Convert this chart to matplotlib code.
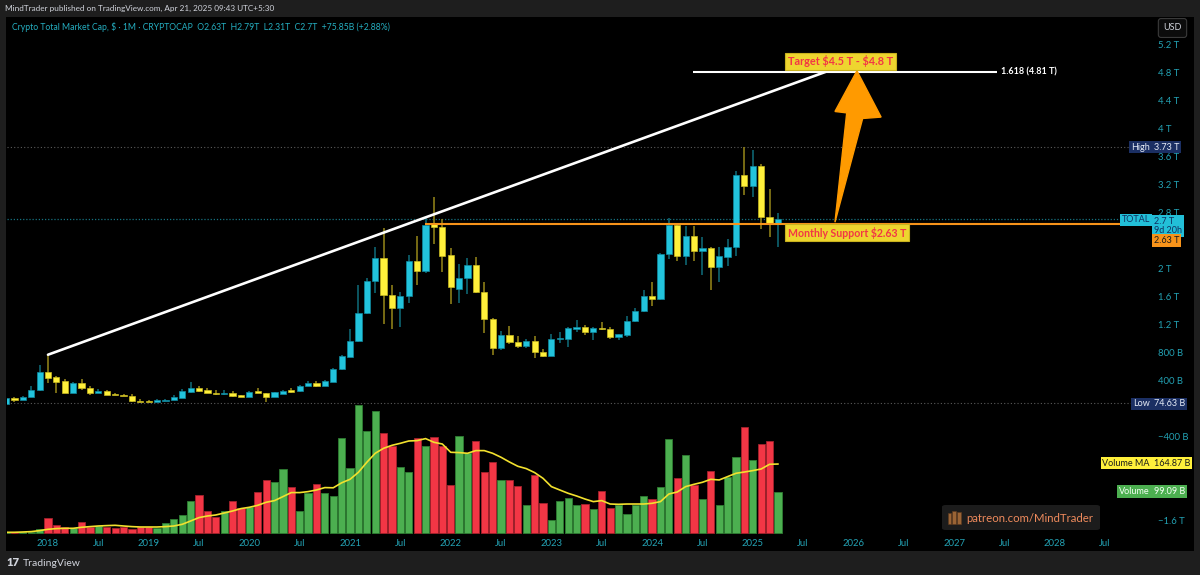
import numpy as np
import matplotlib
matplotlib.use("Agg")
import matplotlib.pyplot as plt
from matplotlib.patches import Rectangle, Polygon, FancyBboxPatch

plt.rcParams['font.family'] = ['Lato', 'DejaVu Sans']

# ---------------- data (monthly, Aug 2017 .. Apr 2025), prices in trillions USD ----------------
start_year, start_month = 2017, 8
opens = [0.07, 0.15, 0.125, 0.17, 0.26,
         0.53, 0.45, 0.39, 0.22, 0.37, 0.295, 0.22, 0.25, 0.21, 0.20, 0.18, 0.115,
         0.11, 0.10, 0.115, 0.125, 0.15, 0.24, 0.295, 0.26, 0.23, 0.205, 0.23, 0.19,
         0.17, 0.25, 0.22, 0.17, 0.215, 0.26, 0.25, 0.32, 0.365, 0.33, 0.385, 0.56,
         0.74, 0.965, 1.36, 1.82, 2.15, 1.62, 1.43, 1.61, 2.10, 1.96, 2.64, 2.59,
         2.19, 1.71, 1.87, 2.05, 1.67, 1.28, 0.86, 1.05, 0.95, 0.90, 0.97, 0.81,
         0.75, 0.99, 1.00, 1.13, 1.16, 1.09, 1.15, 1.14, 1.02, 1.05, 1.25, 1.39,
         1.61, 1.57, 2.20, 2.62, 2.18, 2.46, 2.25, 2.29, 2.02, 2.17, 2.30, 3.34,
         3.18, 3.46, 2.74, 2.63]
highs = [0.16, 0.16, 0.18, 0.32, 0.62,
         0.77, 0.46, 0.43, 0.38, 0.43, 0.32, 0.285, 0.26, 0.22, 0.21, 0.21, 0.135,
         0.125, 0.135, 0.14, 0.19, 0.28, 0.38, 0.33, 0.30, 0.26, 0.26, 0.25, 0.20,
         0.25, 0.30, 0.23, 0.24, 0.27, 0.29, 0.34, 0.40, 0.39, 0.41, 0.58, 0.76,
         1.13, 1.77, 1.87, 2.31, 2.58, 1.76, 1.66, 2.19, 2.46, 2.73, 3.02, 2.71,
         2.29, 2.06, 2.15, 2.17, 1.81, 1.30, 1.11, 1.18, 1.04, 1.00, 1.03, 0.85,
         1.07, 1.09, 1.17, 1.26, 1.19, 1.16, 1.24, 1.17, 1.07, 1.32, 1.43, 1.69,
         1.81, 2.22, 2.72, 2.64, 2.60, 2.60, 2.45, 2.31, 2.30, 2.42, 3.39, 3.74,
         3.69, 3.49, 3.13, 2.79]
lows = [0.065, 0.09, 0.12, 0.165, 0.25,
        0.36, 0.23, 0.22, 0.22, 0.27, 0.20, 0.22, 0.19, 0.19, 0.18, 0.10, 0.09,
        0.10, 0.10, 0.11, 0.12, 0.15, 0.23, 0.24, 0.22, 0.20, 0.19, 0.17, 0.17,
        0.17, 0.22, 0.10, 0.16, 0.21, 0.23, 0.24, 0.32, 0.31, 0.32, 0.38, 0.55,
        0.74, 0.95, 1.35, 1.65, 1.21, 1.13, 1.16, 1.51, 1.76, 1.94, 2.35, 1.95,
        1.49, 1.51, 1.63, 1.65, 1.08, 0.76, 0.84, 0.92, 0.86, 0.86, 0.73, 0.74,
        0.75, 0.94, 0.88, 1.10, 1.05, 0.98, 1.12, 1.00, 0.98, 1.02, 1.24, 1.38,
        1.46, 1.55, 2.13, 2.10, 2.05, 2.11, 1.91, 1.69, 1.81, 2.03, 2.18, 3.05,
        3.02, 2.56, 2.45, 2.31]
closes = [0.15, 0.125, 0.17, 0.27, 0.53,
          0.44, 0.385, 0.22, 0.37, 0.29, 0.23, 0.25, 0.20, 0.20, 0.18, 0.105, 0.10,
          0.10, 0.125, 0.13, 0.16, 0.25, 0.295, 0.25, 0.22, 0.205, 0.23, 0.185, 0.17,
          0.24, 0.22, 0.16, 0.235, 0.255, 0.24, 0.33, 0.36, 0.32, 0.395, 0.565, 0.75,
          0.965, 1.36, 1.82, 2.15, 1.62, 1.43, 1.61, 2.10, 1.96, 2.62, 2.59, 2.18,
          1.73, 1.87, 2.05, 1.66, 1.28, 0.86, 1.05, 0.95, 0.90, 0.97, 0.81, 0.75,
          1.00, 1.01, 1.15, 1.165, 1.10, 1.15, 1.13, 1.02, 1.06, 1.25, 1.39, 1.61,
          1.57, 2.20, 2.62, 2.18, 2.46, 2.25, 2.29, 2.02, 2.18, 2.31, 3.34, 3.18,
          3.46, 2.74, 2.63, 2.70]
# volume in billions USD
volumes = [2.4, 2.4, 3.1, 4.0, 9.5,
           35.7, 19.0, 15.9, 13.6, 27.8, 15.9, 17.4, 15.9, 12.6, 14.3, 11.2, 14.3,
           14.3, 13.6, 23.8, 33.3, 42.8, 76.9, 90.4, 52.4, 39.7, 53.1, 76.9, 61.2,
           61.9, 99.2, 126.9, 122.1, 152.3, 110.2, 54.0, 96.9, 116.6, 95.9, 88.8, 227.8,
           155.4, 305.4, 244.4, 291.1, 239.7, 207.8, 157.1, 145.9, 226.1, 208.7, 228.5, 208.7,
           115.0, 230.9, 190.4, 219.7, 145.2, 169.7, 126.1, 127.8, 113.5, 66.6, 138.8, 73.1,
           32.6, 77.8, 84.0, 66.6, 70.7, 57.8, 100.0, 61.2, 68.3, 45.2, 68.3, 88.1,
           80.9, 110.2, 225.4, 130.9, 185.6, 115.0, 80.9, 148.3, 68.3, 134.9, 180.9, 252.3,
           174.5, 213.5, 219.7, 99.09]
volume_ma = [2.4, 2.4, 3.1, 4.0, 6.4,
             9.5, 11.2, 11.9, 11.9, 14.3, 15.9, 17.4, 18.3, 19.0, 17.4, 15.9, 15.0,
             15.0, 15.0, 15.9, 17.4, 21.4, 29.3, 37.4, 41.2, 43.6, 48.3, 53.1, 58.8,
             61.9, 66.6, 73.8, 77.8, 87.3, 96.9, 96.9, 99.2, 103.1, 108.8, 108.3, 120.2,
             128.5, 145.2, 169.0, 190.4, 202.3, 209.4, 214.2, 219.7, 220.6, 225.4, 216.6, 212.5,
             192.8, 192.1, 190.4, 196.8, 196.8, 190.4, 180.9, 169.7, 159.5, 154.0, 144.5, 130.9,
             111.1, 103.1, 95.2, 88.8, 81.6, 75.4, 77.8, 69.7, 69.0, 69.7, 69.7, 69.7,
             71.4, 75.4, 93.5, 98.3, 111.1, 116.6, 121.4, 128.5, 126.9, 134.9, 142.8, 145.9,
             149.2, 153.0, 164.2, 164.87]

year_ticks = ["2018", "Jul", "2019", "Jul", "2020", "Jul", "2021", "Jul", "2022", "Jul",
              "2023", "Jul", "2024", "Jul", "2025", "Jul", "2026", "Jul", "2027", "Jul",
              "2028", "Jul"]
price_ticks = [5.2, 4.8, 4.4, 4.0, 3.6, 3.2, 2.8, 2.0, 1.6, 1.2, 0.8, 0.4, -0.4, -1.6]
price_tick_labels = ["5.2 T", "4.8 T", "4.4 T", "4 T", "3.6 T", "3.2 T", "2.8 T", "2 T",
                     "1.6 T", "1.2 T", "800 B", "400 B", "\u2212400 B", "\u22121.6 T"]

ath_high = 3.73
atl_low = 0.07463
support = 2.63
fib_level = 4.81
last_close = 2.70

# ---------------- styling ----------------
W, H = 1200, 575
UP, DOWN = '#22c3dc', '#fff03b'
UP_W, DOWN_W = '#0e6472', '#8c7d18'
VUP, VDOWN = '#4caf50', '#f23645'
TEAL = '#23a2b4'

fig = plt.figure(figsize=(W / 100, H / 100), dpi=100, facecolor='black')

def fx(x):
    return x / W

def fy(y):
    return 1 - y / H

# header / footer / frame
for (x0, y0, w, hgt) in [(0, 0, 1200, 17), (0, 551, 1200, 24), (0, 17, 6, 534), (1194, 17, 6, 534)]:
    fig.patches.append(Rectangle((fx(x0), fy(y0 + hgt)), fx(w), hgt / H, transform=fig.transFigure,
                                 facecolor='#1e1e1e', edgecolor='none', zorder=0))

rect = [fx(7), fy(535), fx(1150 - 7), (535 - 17) / H]
ax_vol = fig.add_axes(rect, zorder=1)
ax = fig.add_axes(rect, zorder=2)
ax.set_facecolor('none')
ax_vol.set_facecolor('black')

n = len(closes)
xs = np.arange(n) + ((start_year - 2018) * 12 + (start_month - 1))
o = np.array(opens); c = np.array(closes); h = np.array(highs); l = np.array(lows)
up = c >= o

xlim = (-4.887, 131.35)
ax.set_xlim(*xlim)
ax_vol.set_xlim(*xlim)
ax.set_ylim(-1.8017, 5.5877)
ax_vol.set_ylim(-4.05, 1228.8)

# volume
vcols = [VUP if u else VDOWN for u in up]
vedge = ['#2e7d32' if u else '#a3212c' for u in up]
ax_vol.bar(xs, volumes, width=0.86, color=vcols, edgecolor=vedge, linewidth=0.6)
ax_vol.plot(xs, volume_ma, color='#f2e12e', lw=1.2)
ax_vol.axis('off')

# reference dotted lines
ax.axhline(ath_high, color='#5a5a5a', lw=0.8, ls=(0, (1, 2)))
ax.axhline(atl_low, color='#5a5a5a', lw=0.8, ls=(0, (1, 2)))
ax.axhline(last_close, color='#177380', lw=0.9, ls=(0, (1, 1.5)))

# candles
ax.vlines(xs, l, h, colors=[UP_W if u else DOWN_W for u in up], lw=1.2, zorder=3)
body_lo = np.minimum(o, c)
body_h = np.maximum(np.abs(c - o), 0.012)
ax.bar(xs, body_h, bottom=body_lo, width=0.74,
       color=[UP if u else DOWN for u in up],
       edgecolor=['#0f8aa0' if u else '#c9b920' for u in up], linewidth=0.5, zorder=4)

# trend line and levels
ax.plot([0, 92.8], [highs[5], fib_level], color='white', lw=1.9, zorder=5,
        solid_capstyle='round')
ax.hlines(fib_level, 76.9, 113.1, color='white', lw=1.5, zorder=5)
ax.text(113.6, fib_level, "1.618 (4.81 T)", color='white', fontsize=6.5,
        va='center', ha='left', fontweight='bold', zorder=6)
ax.hlines(support, 44.9, xlim[1], color='#f7931a', lw=1.5, zorder=5)

# orange arrow
arrow = Polygon([(93.80, 2.66), (97.10, 4.14), (99.30, 4.16), (96.42, 4.82),
                 (93.80, 4.24), (95.20, 4.22)], closed=True,
                facecolor='#ff9a00', edgecolor='#ff9a00', zorder=6)
ax.add_patch(arrow)

# annotation boxes
ax.text(88.2, 4.955, "Target \\$4.5 T - \\$4.8 T", color='#f23645', fontsize=7.8,
        fontweight='bold', va='center', ha='left', zorder=7,
        bbox=dict(boxstyle='square,pad=0.25', fc='#eed52f', ec='#c9b21e', lw=0.8))
ax.text(88.2, 2.51, "Monthly Support \\$2.63 T", color='#f23645', fontsize=7.6,
        fontweight='bold', va='center', ha='left', zorder=7,
        bbox=dict(boxstyle='square,pad=0.25', fc='#eed52f', ec='#c9b21e', lw=0.8))

# axes ticks
ax.set_xticks(np.arange(0, 6 * len(year_ticks), 6))
ax.set_xticklabels(year_ticks)
ax.yaxis.tick_right()
ax.set_yticks(price_ticks)
ax.set_yticklabels(price_tick_labels)
ax.tick_params(axis='both', length=0, labelcolor=TEAL, labelsize=6.8)
ax.tick_params(axis='y', pad=6)
ax.tick_params(axis='x', pad=3)
for s in ax.spines.values():
    s.set_visible(False)

# price-scale labels
def scale_label(y_px, left_text, right_text, fc, tc, fs=6.5):
    if left_text:
        fig.text(fx(1150), fy(y_px), left_text, ha='right', va='center', color=tc,
                 fontsize=fs, zorder=10,
                 bbox=dict(boxstyle='square,pad=0.22', fc=fc, ec='none'))
    fig.text(fx(1154), fy(y_px), right_text, ha='left', va='center', color=tc,
             fontsize=fs, zorder=10, linespacing=1.05,
             bbox=dict(boxstyle='square,pad=0.22', fc=fc, ec='none'))

scale_label(147, "High", "3.73 T", '#1b2f63', '#e6ecf7')
scale_label(226, "", "2.7 T   \n9d 20h", '#22bfd8', '#103060')
fig.text(fx(1150), fy(220), "TOTAL", ha='right', va='center', color='#103060', fontsize=6.5,
         zorder=10, bbox=dict(boxstyle='square,pad=0.22', fc='#22bfd8', ec='none'))
scale_label(240.5, "", "2.63 T", '#f7931a', '#1a1a1a')
scale_label(404, "Low", "74.63 B", '#1b2f63', '#e6ecf7')
scale_label(463, "Volume MA", "164.87 B", '#fff03b', '#1a1a1a')
scale_label(491.5, "Volume", "99.09 B", '#4caf50', '#f4fff4')

fig.text(fx(1172.5), fy(28), "USD", ha='center', va='center', color='#d1d4dc', fontsize=6.5,
         zorder=10, bbox=dict(boxstyle='round,pad=0.55,rounding_size=0.3', fc='#0c0c0c',
                              ec='#3a3a3a', lw=0.8))

# header, title, footer
fig.text(fx(5), fy(8), "MindTrader published on TradingView.com, Apr 21, 2025 09:43 UTC+5:30",
         color='#d1d4dc', fontsize=5.9, va='center', ha='left')
fig.text(fx(12), fy(27.5),
         "Crypto Total Market Cap, $ \u00b7 1M \u00b7 CRYPTOCAP  O2.63T  H2.79T  L2.31T  C2.7T  +75.85B (+2.88%)",
         color='#25aec0', fontsize=6.2, va='center', ha='left')
fig.text(fx(6), fy(563), "17", color='#d1d4dc', fontsize=8, fontweight='heavy',
         va='center', ha='left')
fig.text(fx(23), fy(563), "TradingView", color='#d1d4dc', fontsize=7.5, va='center', ha='left')

# patreon box
fig.patches.append(FancyBboxPatch((fx(942), fy(530)), fx(158), 25 / H,
                                  boxstyle='round,pad=0,rounding_size=0.003',
                                  transform=fig.transFigure, facecolor='#1c1c1c',
                                  edgecolor='none', zorder=8))
for (bx, by, bw, bh) in [(948, 513, 3, 11), (952, 511, 4, 13), (957, 512, 4, 12)]:
    fig.patches.append(Rectangle((fx(bx), fy(by + bh)), fx(bw), bh / H,
                                 transform=fig.transFigure, facecolor='#9a6435',
                                 edgecolor='#5e3a1e', lw=0.4, zorder=9))
fig.text(fx(966), fy(518), "patreon.com/MindTrader", color='#ee8a5c', fontsize=8.2,
         va='center', ha='left', zorder=10)

fig.savefig("out.png", dpi=100, facecolor=fig.get_facecolor())
